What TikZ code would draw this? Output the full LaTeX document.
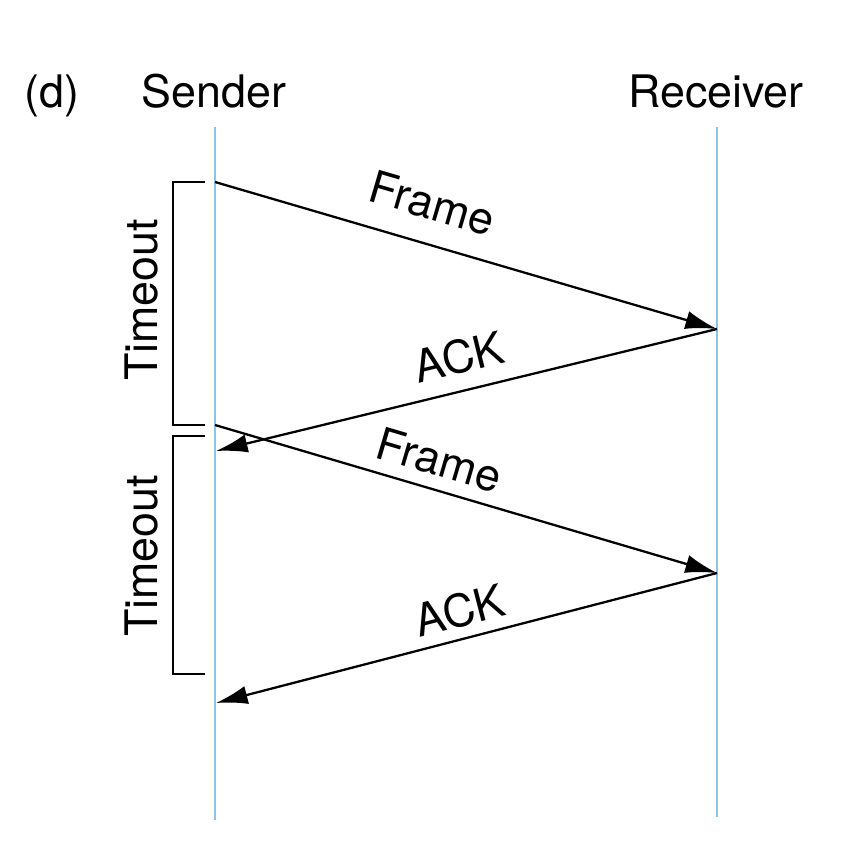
\documentclass[tikz,border=0pt]{standalone}
\usepackage{fontspec}
\setmainfont{TeX Gyre Heros}
\usetikzlibrary{arrows.meta}
\definecolor{lifeblue}{RGB}{140,196,228}
\begin{document}
\begin{tikzpicture}[x=0.02cm,y=-0.02cm,
  every node/.style={font=\fontsize{25.5}{30}\selectfont,inner sep=2pt},
  lifeline/.style={draw=lifeblue,line width=1.2pt},
  msg/.style={draw,line width=1.3pt,-{Latex[length=18pt,width=10.5pt]}},
  bracket/.style={draw,line width=1.3pt}]
\useasboundingbox (0,0) rectangle (862,868);
% headings
\node[anchor=base] (d) at (52,108) {(d)};
\node[anchor=base] (sender) at (214,108) {Sender};
\node[anchor=base] (receiver) at (716,108) {Receiver};
% lifelines
\coordinate (stop) at (215,127);
\coordinate (sbot) at (215,820);
\coordinate (rtop) at (717,127);
\coordinate (rbot) at (717,817);
\path[lifeline] (stop) -- (sbot);
\path[lifeline] (rtop) -- (rbot);
% points on the lifelines
\coordinate (s1) at (215,182);
\coordinate (r1) at (717,329);
\coordinate (s2) at (216,451);
\coordinate (s3) at (215,425);
\coordinate (r2) at (717,573);
\coordinate (s4) at (216,703);
% messages
\path[msg] (s1) -- node[pos=0.41,sloped,above=11pt] (frame1) {Frame} (r1);
\path[msg] (r1) -- node[pos=0.5,sloped,above=7pt] (ack1) {ACK} (s2);
\path[msg] (s3) -- node[pos=0.43,sloped,above=5pt] (frame2) {Frame} (r2);
\path[msg] (r2) -- node[pos=0.5,sloped,above=4pt] (ack2) {ACK} (s4);
% timeouts
\path[bracket] (205,182) -- (173,182) -- (173,425) -- (205,425);
\path[bracket] (205,436) -- (173,436) -- (173,674) -- (205,674);
\node[rotate=90] (timeout1) at (142,300) {Timeout};
\node[rotate=90] (timeout2) at (142,556) {Timeout};
\end{tikzpicture}
\end{document}
